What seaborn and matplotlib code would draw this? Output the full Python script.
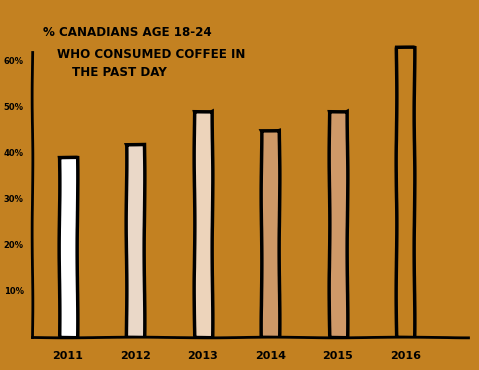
import matplotlib
matplotlib.use("Agg")
import matplotlib.pyplot as plt
import seaborn as sns
import pandas as pd

years = ["2011", "2012", "2013", "2014", "2015", "2016"]
values = [39, 42, 49, 45, 49, 63]
bar_colors = ["#FFFFFF", "#EAD8C8", "#EDD4BB", "#CD9867", "#CF9968", "#C38121"]
ytick_vals = [10, 20, 30, 40, 50, 60]
ytick_labels = ["10%", "20%", "30%", "40%", "50%", "60%"]
title_lines = ["% CANADIANS AGE 18-24", "WHO CONSUMED COFFEE IN", "THE PAST DAY"]

BG = "#C38121"

plt.xkcd(scale=0.35, length=150, randomness=2)
plt.rcParams["path.effects"] = []
plt.rcParams["font.family"] = ["DejaVu Sans"]

df = pd.DataFrame({"year": years, "value": values})

fig = plt.figure(figsize=(4.79, 3.70), dpi=100, facecolor=BG)
ax = fig.add_axes([0.0668, 0.0892, 0.910, 0.8027])
ax.set_facecolor(BG)

sns.barplot(data=df, x="year", y="value", hue="year", palette=bar_colors,
            width=0.27, edgecolor="black", linewidth=2.5, legend=False, ax=ax,
            saturation=1)

ax.set_xlim(-0.53, 5.93)
ax.set_ylim(0, 64.5)
ax.spines["top"].set_visible(False)
ax.spines["right"].set_visible(False)
for s in ("left", "bottom"):
    ax.spines[s].set_color("black")
    ax.spines[s].set_linewidth(2)
ax.spines["left"].set_bounds(0, 62)
ax.set_yticks(ytick_vals)
ax.set_yticklabels(ytick_labels, fontsize=6, fontweight="bold")
ax.tick_params(axis="both", length=0)
ax.tick_params(axis="y", pad=6)
ax.tick_params(axis="x", pad=10)
for lab in ax.get_xticklabels():
    lab.set_fontsize(8)
    lab.set_fontweight("bold")
ax.set_xlabel("")
ax.set_ylabel("")

pos = [(0.0898, 0.911), (0.119, 0.854), (0.150, 0.805)]
for (x, y), t in zip(pos, title_lines):
    fig.text(x, y, t, fontsize=8.6, fontweight="bold", ha="left", va="center",
             color="black")

fig.savefig("out.png", dpi=100, facecolor=BG)
